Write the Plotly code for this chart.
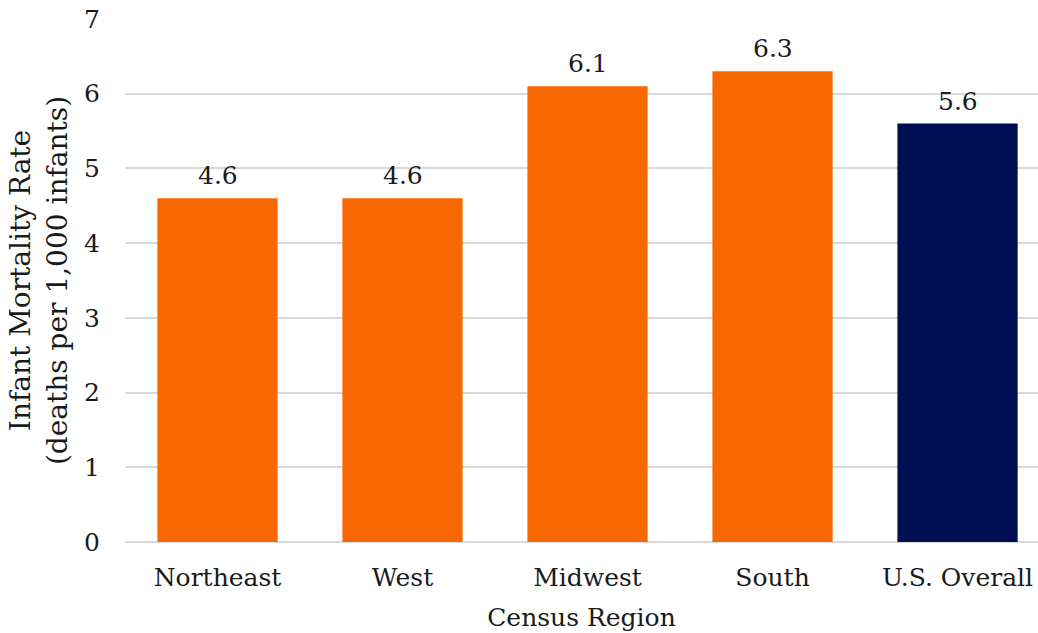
import plotly.graph_objects as go

regions = ["Northeast", "West", "Midwest", "South", "U.S. Overall"]
rates = [4.6, 4.6, 6.1, 6.3, 5.6]
bar_colors = ["#F76900", "#F76900", "#F76900", "#F76900", "#000E54"]
y_ticks = [0, 1, 2, 3, 4, 5, 6, 7]

FONT = "DejaVu Serif"
SIZE = 25
INK = "#1a1a1a"

fig = go.Figure(
    go.Bar(
        x=regions,
        y=rates,
        marker=dict(color=bar_colors, line=dict(width=0)),
        cliponaxis=False,
    )
)

# value labels sitting just above each bar
for region, rate in zip(regions, rates):
    fig.add_annotation(
        x=region,
        y=rate,
        text=f"{rate:.1f}",
        showarrow=False,
        yanchor="bottom",
        yshift=6,
        font=dict(family=FONT, size=SIZE, color=INK),
    )

fig.update_layout(
    width=1038,
    height=633,
    margin=dict(l=125, r=0, t=19, b=91),
    paper_bgcolor="white",
    plot_bgcolor="white",
    bargap=0.35,
    showlegend=False,
    font=dict(family=FONT, size=SIZE, color=INK),
    xaxis=dict(
        range=[-0.5, 4.435],
        showgrid=False,
        showline=False,
        ticks="",
        ticklabelstandoff=18,
        tickfont=dict(family=FONT, size=SIZE, color=INK),
        title=dict(text="Census Region", font=dict(family=FONT, size=SIZE, color=INK), standoff=17),
    ),
    yaxis=dict(
        range=[0, 7],
        tickvals=y_ticks,
        showgrid=True,
        gridcolor="#d9d9d9",
        gridwidth=1.5,
        zeroline=True,
        zerolinecolor="#d9d9d9",
        zerolinewidth=1.5,
        showline=False,
        ticks="",
        ticklabelstandoff=24,
        tickfont=dict(family=FONT, size=SIZE, color=INK),
        title=dict(
            text="Infant Mortality Rate<br>(deaths per 1,000 infants)",
            font=dict(family=FONT, size=28, color=INK),
            standoff=8,
        ),
    ),
)

fig.write_html("out.html")
